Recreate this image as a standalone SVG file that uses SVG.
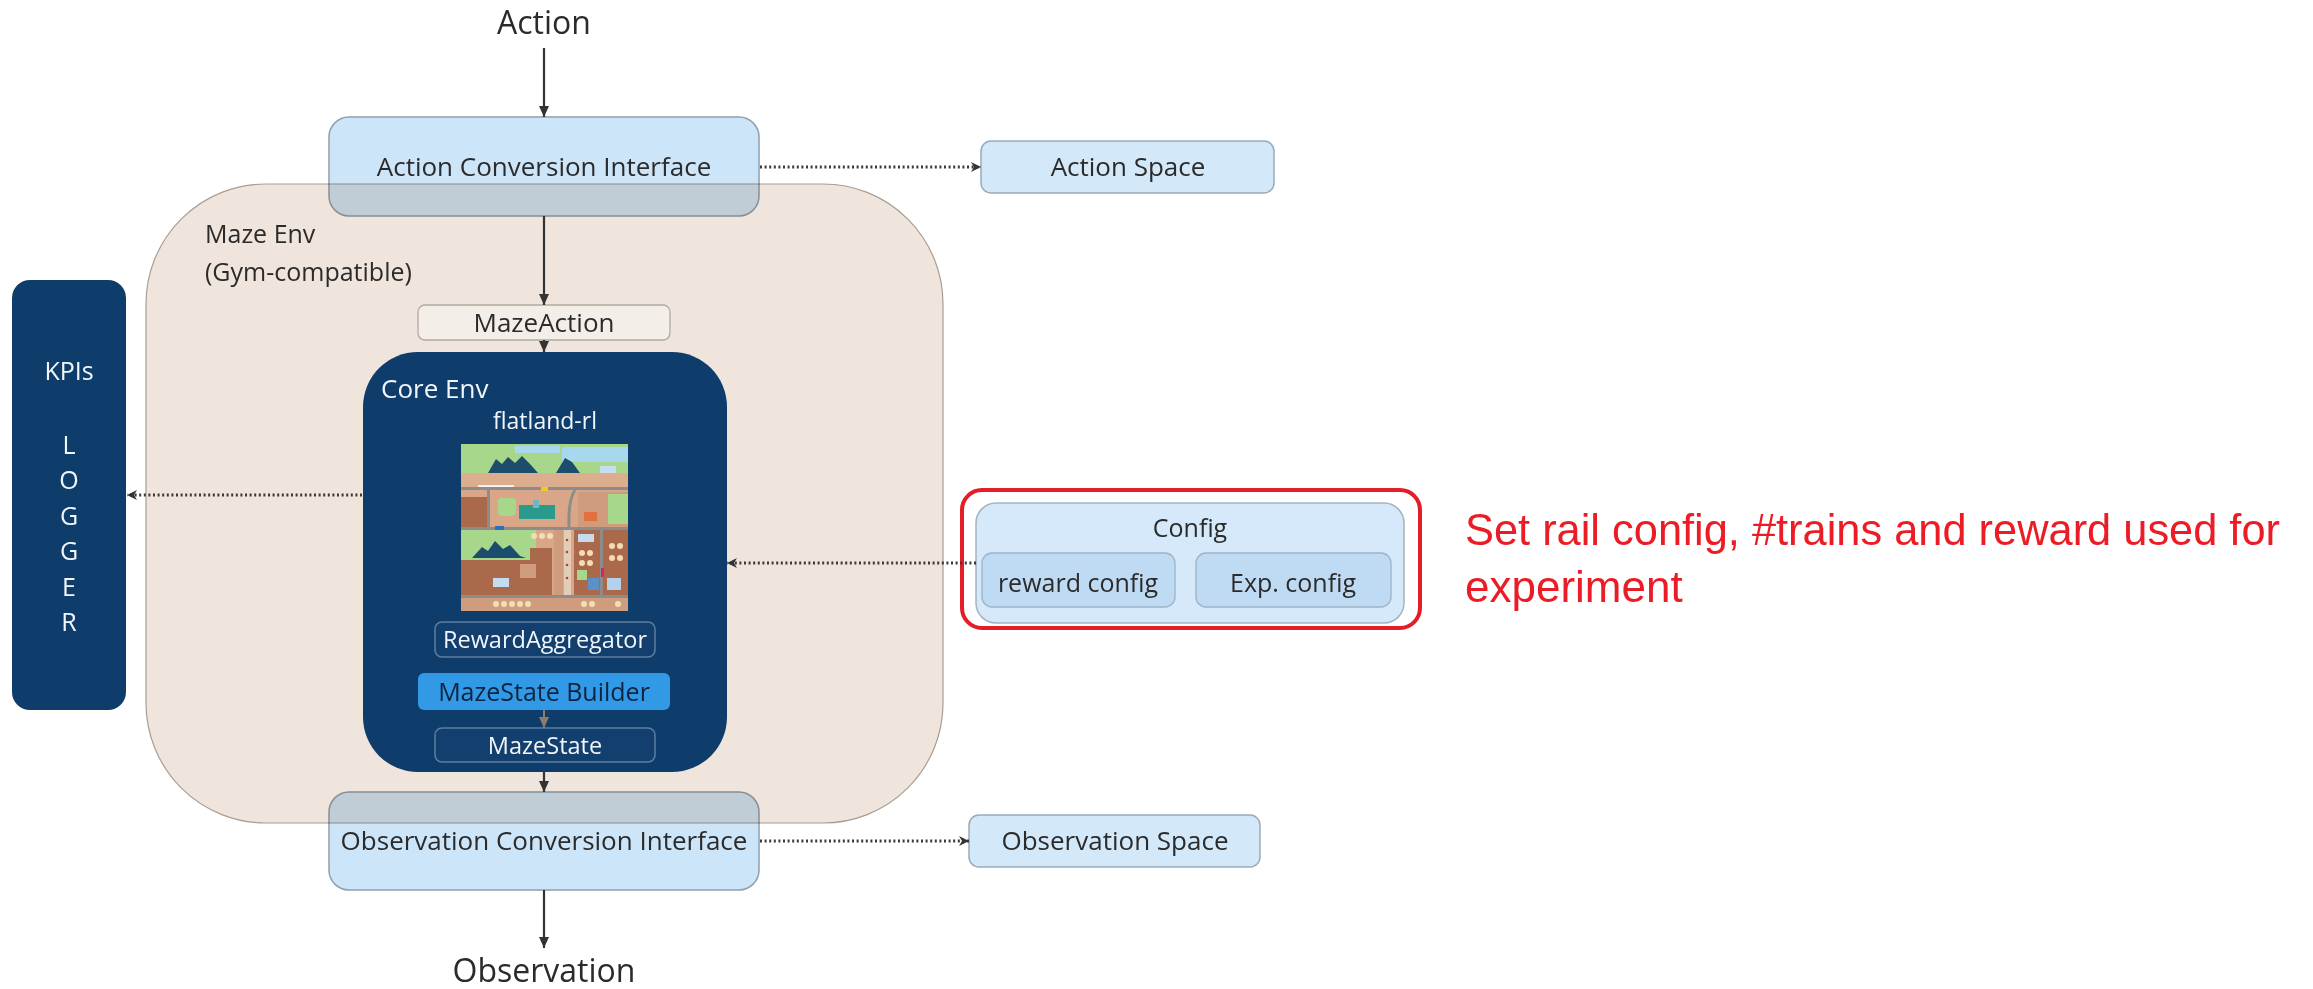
<svg xmlns="http://www.w3.org/2000/svg" width="2313" height="989" viewBox="0 0 2313 989">
  <style>
    text { font-family: "Open Sans", "Liberation Sans", sans-serif; fill: #2b2b2b; }
    .c { text-anchor: middle; }
    .f26 { font-size: 26px; }
    .f25 { font-size: 25px; }
    .f32 { font-size: 32px; }
    .wt { fill: #f2f6fa; }
    .iface { fill: #cde5f8; stroke: #8f9faf; stroke-width: 1.5; mix-blend-mode: multiply; }
    .space { fill: #d3e8f9; stroke: #9aaabb; stroke-width: 1.5; }
    .navy { fill: #0f3d6b; }
    .inner { fill: #123f6d; stroke: #5c7da0; stroke-width: 1.5; }
    .flow { stroke: #333; stroke-width: 2.2; fill: none; }
    .dots { stroke: #3a3a3a; stroke-width: 3; stroke-dasharray: 2 2.6; fill: none; }
    .road { fill: #8e8c8a; }
    .brown { fill: #a9694a; }
    .green { fill: #a7d78b; }
    .mtn { fill: #1d4d6c; }
    .house { fill: #f3dcb6; }
  </style>
  <defs>
    <marker id="arr" markerUnits="userSpaceOnUse" markerWidth="12" markerHeight="10" refX="11" refY="5" orient="auto">
      <path d="M0,0 L11,5 L0,10 z" fill="#333"/>
    </marker>
    <marker id="arrSoft" markerUnits="userSpaceOnUse" markerWidth="12" markerHeight="10" refX="11" refY="5" orient="auto">
      <path d="M0,0 L11,5 L0,10 z" fill="#8c7c6c"/>
    </marker>
    <marker id="arrDot" markerUnits="userSpaceOnUse" markerWidth="12" markerHeight="12" refX="10" refY="6" orient="auto">
      <path d="M0,1 L10,6 L0,11 L3,6 z" fill="#333"/>
    </marker>
    <clipPath id="mapClip"><rect x="461" y="444" width="167" height="167"/></clipPath>
  </defs>

  <rect width="2313" height="989" fill="#ffffff"/>

  <!-- Maze Env container -->
  <g id="maze-env">
    <rect x="146" y="184" width="797" height="639" rx="120" fill="#efe5dc" stroke="#a89d92" stroke-width="1.2"/>
    <text x="205" y="243" class="f25">Maze Env</text>
    <text x="205" y="281" class="f25">(Gym-compatible)</text>
  </g>

  <!-- KPIs / logger -->
  <g id="kpis">
    <rect x="12" y="280" width="114" height="430" rx="18" class="navy"/>
    <text x="69" y="380" class="c f25 wt">KPIs</text>
    <text x="69" y="454" class="c f25 wt">L</text>
    <text x="69" y="489" class="c f25 wt">O</text>
    <text x="69" y="525" class="c f25 wt">G</text>
    <text x="69" y="560" class="c f25 wt">G</text>
    <text x="69" y="596" class="c f25 wt">E</text>
    <text x="69" y="631" class="c f25 wt">R</text>
  </g>

  <!-- top / bottom labels -->
  <g id="action-label">
    <text x="544" y="34" class="c f32">Action</text>
  </g>
  <g id="observation-label">
    <text x="544" y="982" class="c f32">Observation</text>
  </g>

  <!-- Conversion interfaces -->
  <g id="action-conversion">
    <rect x="329" y="117" width="430" height="99" rx="20" class="iface"/>
    <text x="544" y="176" class="c f26">Action Conversion Interface</text>
  </g>
  <g id="observation-conversion">
    <rect x="329" y="792" width="430" height="98" rx="20" class="iface"/>
    <text x="544" y="850" class="c f26">Observation Conversion Interface</text>
  </g>

  <!-- Spaces -->
  <g id="action-space">
    <rect x="981" y="141" width="293" height="52" rx="10" class="space"/>
    <text x="1128" y="176" class="c f26">Action Space</text>
  </g>
  <g id="observation-space">
    <rect x="969" y="815" width="291" height="52" rx="10" class="space"/>
    <text x="1115" y="850" class="c f26">Observation Space</text>
  </g>

  <!-- MazeAction -->
  <g id="maze-action">
    <rect x="418" y="305" width="252" height="35" rx="7" fill="#f4eee8" stroke="#b3a99f" stroke-width="1.3"/>
    <text x="544" y="332" class="c f26">MazeAction</text>
  </g>

  <!-- Core Env -->
  <g id="core-env">
    <rect x="363" y="352" width="364" height="420" rx="55" class="navy"/>
    <text x="381" y="398" class="f26 wt">Core Env</text>
    <text x="545" y="429" class="c wt" font-size="23">flatland-rl</text>

    <!-- flatland map illustration -->
    <g id="flatland-map" clip-path="url(#mapClip)">
      <rect x="461" y="444" width="167" height="167" fill="#d9a688"/>
      <rect x="461" y="444" width="167" height="29" class="green"/>
      <path d="M515,446 h45 v7 h-45 z M562,447 h66 v15 h-66 z" fill="#a9d8ee"/>
      <path d="M488,473 L496,459 L502,464 L508,457 L515,463 L522,456 L530,464 L538,473 z" class="mtn"/>
      <path d="M556,473 L565,458 L572,462 L580,473 z" class="mtn"/>
      <rect x="600" y="466" width="16" height="9" fill="#c8def0"/>
      <rect x="461" y="473" width="167" height="14" fill="#dcae8e"/>
      <rect x="461" y="487" width="167" height="3" class="road"/>
      <rect x="478" y="485" width="36" height="2" fill="#f2f2f2"/>
      <rect x="541" y="487" width="7" height="4" fill="#f2cc10"/>
      <!-- middle band -->
      <rect x="461" y="497" width="26" height="30" class="brown"/>
      <rect x="487" y="490" width="3" height="38" class="road"/>
      <rect x="498" y="498" width="18" height="18" class="green" rx="4"/>
      <rect x="519" y="505" width="36" height="14" fill="#2a9a8c"/>
      <rect x="533" y="500" width="6" height="8" fill="#6fb7c4"/>
      <path d="M575,490 Q568,500 569,528" stroke="#8e8c8a" stroke-width="3" fill="none"/>
      <rect x="578" y="492" width="50" height="35" fill="#cf9c7e"/>
      <rect x="608" y="494" width="20" height="30" class="green"/>
      <rect x="584" y="512" width="13" height="9" fill="#e0703e"/>
      <rect x="461" y="527" width="167" height="3" class="road"/>
      <rect x="495" y="526" width="9" height="4" fill="#2c6fbe"/>
      <!-- lower band -->
      <rect x="461" y="530" width="75" height="38" class="green"/>
      <path d="M472,558 L482,547 L488,551 L495,541 L503,549 L510,545 L520,556 L526,558 z" class="mtn"/>
      <path d="M461,560 L530,560 L530,548 L552,548 L552,595 L461,595 z" class="brown"/>
      <rect x="520" y="564" width="16" height="14" fill="#cf9c7e"/>
      <rect x="493" y="578" width="16" height="9" fill="#c5dbee"/>
      <rect x="554" y="530" width="9" height="65" fill="#cf9c7e"/>
      <rect x="564" y="530" width="7" height="65" fill="#e2cdb8"/>
      <circle cx="567" cy="540" r="1.3" fill="#c0392b"/>
      <circle cx="567" cy="552" r="1.3" fill="#c0392b"/>
      <circle cx="567" cy="565" r="1.3" fill="#c0392b"/>
      <circle cx="567" cy="578" r="1.3" fill="#c0392b"/>
      <circle cx="534" cy="536" r="3" class="house"/>
      <circle cx="542" cy="536" r="3" class="house"/>
      <circle cx="550" cy="536" r="3" class="house"/>
      <rect x="574" y="530" width="54" height="65" class="brown"/>
      <rect x="600" y="530" width="3" height="81" class="road"/>
      <rect x="578" y="534" width="16" height="8" fill="#c5dbee"/>
      <circle cx="582" cy="553" r="3" class="house"/>
      <circle cx="590" cy="553" r="3" class="house"/>
      <circle cx="582" cy="563" r="3" class="house"/>
      <circle cx="590" cy="563" r="3" class="house"/>
      <circle cx="612" cy="546" r="3" class="house"/>
      <circle cx="620" cy="546" r="3" class="house"/>
      <circle cx="612" cy="558" r="3" class="house"/>
      <circle cx="620" cy="558" r="3" class="house"/>
      <rect x="577" y="570" width="10" height="10" class="green"/>
      <rect x="588" y="578" width="11" height="12" fill="#5d8fcb"/>
      <rect x="607" y="578" width="14" height="12" fill="#b3d1ea"/>
      <rect x="601" y="568" width="3" height="9" fill="#d6246e"/>
      <rect x="461" y="595" width="167" height="3" class="road"/>
      <rect x="461" y="598" width="167" height="13" fill="#cf9c7e"/>
      <circle cx="496" cy="604" r="3" class="house"/>
      <circle cx="504" cy="604" r="3" class="house"/>
      <circle cx="512" cy="604" r="3" class="house"/>
      <circle cx="520" cy="604" r="3" class="house"/>
      <circle cx="528" cy="604" r="3" class="house"/>
      <circle cx="584" cy="604" r="3" class="house"/>
      <circle cx="592" cy="604" r="3" class="house"/>
      <circle cx="618" cy="604" r="3" class="house"/>
    </g>
  </g>

  <!-- components inside Core Env -->
  <g id="reward-aggregator">
    <rect x="435" y="622" width="220" height="35" rx="7" class="inner"/>
    <text x="545" y="648" class="c wt" font-size="23.5">RewardAggregator</text>
  </g>
  <g id="mazestate-builder">
    <rect x="418" y="673" width="252" height="37" rx="6" fill="#3299e7"/>
    <text x="544" y="701" class="c f25" style="fill:#0d2540">MazeState Builder</text>
  </g>
  <g id="mazestate">
    <rect x="435" y="728" width="220" height="34" rx="7" class="inner"/>
    <text x="545" y="754" class="c wt" font-size="23.5">MazeState</text>
  </g>

  <!-- Config -->
  <g id="config">
    <rect x="976" y="503" width="428" height="120" rx="20" fill="#d5e9fa" stroke="#a3b3c2" stroke-width="1.5"/>
    <text x="1190" y="537" class="c f25">Config</text>
    <rect x="982" y="553" width="193" height="54" rx="10" fill="#bedbf3" stroke="#9db2c5" stroke-width="1.3"/>
    <text x="1078" y="592" class="c f25">reward config</text>
    <rect x="1196" y="553" width="195" height="54" rx="10" fill="#bedbf3" stroke="#9db2c5" stroke-width="1.3"/>
    <text x="1293" y="592" class="c f25">Exp. config</text>
  </g>

  <!-- highlight note -->
  <g id="config-note">
    <rect x="962" y="490" width="458" height="138" rx="20" fill="none" stroke="#e31e26" stroke-width="4"/>
    <text x="1465" y="545" font-size="44" textLength="815" lengthAdjust="spacingAndGlyphs" style="font-family:'Liberation Sans', Arial, sans-serif; fill:#ec1c26">Set rail config, #trains and reward used for</text>
    <text x="1465" y="602" font-size="44" style="font-family:'Liberation Sans', Arial, sans-serif; fill:#ec1c26">experiment</text>
  </g>

  <!-- connectors -->
  <g id="connectors">
    <line x1="544" y1="48" x2="544" y2="117" class="flow" marker-end="url(#arr)"/>
    <line x1="544" y1="216" x2="544" y2="305" class="flow" marker-end="url(#arr)"/>
    <line x1="544" y1="340" x2="544" y2="352" class="flow" marker-end="url(#arr)"/>
    <line x1="544" y1="710" x2="544" y2="728" stroke="#8c7c6c" stroke-width="2" marker-end="url(#arrSoft)"/>
    <line x1="544" y1="772" x2="544" y2="792" class="flow" marker-end="url(#arr)"/>
    <line x1="544" y1="890" x2="544" y2="948" class="flow" marker-end="url(#arr)"/>
    <line x1="760" y1="167" x2="981" y2="167" class="dots" marker-end="url(#arrDot)"/>
    <line x1="760" y1="841" x2="969" y2="841" class="dots" marker-end="url(#arrDot)"/>
    <line x1="362" y1="495" x2="127" y2="495" class="dots" marker-end="url(#arrDot)"/>
    <line x1="976" y1="563" x2="727" y2="563" class="dots" marker-end="url(#arrDot)"/>
  </g>
</svg>
